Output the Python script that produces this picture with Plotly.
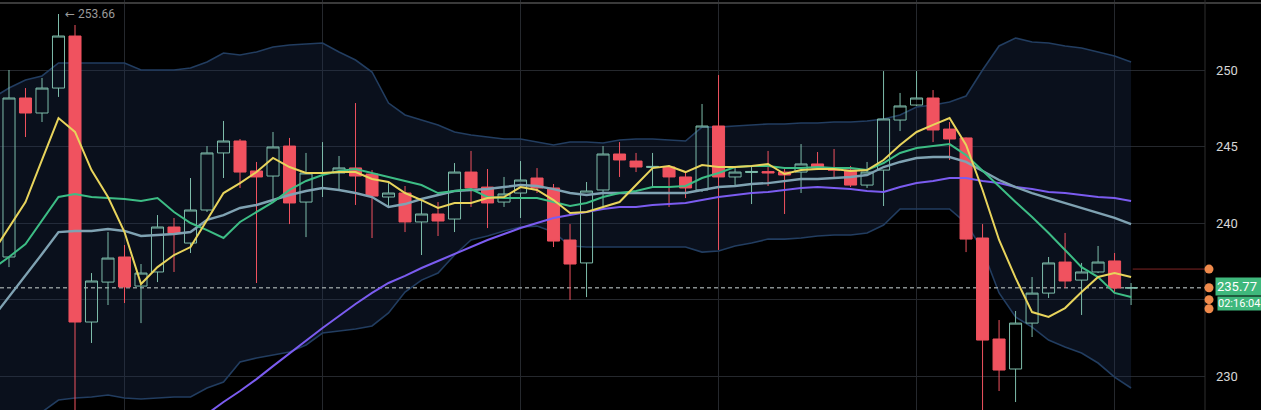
import plotly.graph_objects as go

# ---------------- data ----------------
candle_idx = list(range(69))
opens = [237.78, 248.17, 247.19, 248.82, 252.22, 233.53, 236.14, 237.78, 235.88, 236.80,
         239.74, 238.69, 240.85, 244.58, 245.36, 243.40, 243.07, 245.03, 241.37, 243.24,
         243.27, 243.60, 243.20, 241.70, 241.96, 240.07, 240.59, 240.26, 243.33, 242.35,
         241.37, 241.96, 242.94, 242.29, 238.89, 237.39, 242.16, 244.51, 244.05, 243.63,
         243.66, 243.01, 242.16, 246.34, 243.01, 243.30, 243.36, 243.33, 243.33, 243.86,
         243.50, 243.46, 242.48, 243.46, 246.73, 247.71, 248.17, 246.14, 245.56, 239.02,
         232.42, 230.46, 233.46, 235.42, 237.45, 236.27, 236.80, 237.52, 235.75]
highs = [250.00, 248.82, 249.48, 253.66, 252.94, 236.73, 239.41, 238.56, 237.32, 240.52,
         240.33, 242.94, 245.03, 246.67, 245.49, 243.99, 245.95, 245.56, 244.58, 245.29,
         244.38, 247.84, 243.46, 242.68, 242.42, 241.50, 241.37, 243.92, 244.71, 243.53,
         243.01, 244.05, 243.59, 242.55, 239.93, 242.68, 245.03, 245.29, 244.58, 244.58,
         243.79, 243.33, 247.78, 249.67, 243.66, 243.66, 244.71, 243.53, 245.16, 244.64,
         244.84, 243.73, 243.99, 249.93, 248.50, 249.93, 248.69, 246.60, 245.59, 239.93,
         233.66, 234.25, 236.47, 237.78, 239.35, 237.39, 238.50, 238.04, 236.08]
lows = [237.12, 245.62, 246.60, 248.24, 227.00, 232.16, 234.64, 234.77, 233.46, 236.14,
        236.80, 238.04, 240.72, 242.94, 242.29, 236.08, 241.50, 239.93, 239.08, 241.70,
        242.09, 241.18, 239.02, 241.05, 239.41, 237.91, 239.15, 239.41, 241.05, 239.67,
        241.05, 240.33, 241.96, 238.43, 234.97, 235.16, 241.11, 243.01, 243.33, 242.35,
        241.05, 241.63, 242.03, 238.24, 242.42, 241.24, 242.42, 240.59, 241.96, 243.46,
        243.01, 242.35, 242.29, 241.11, 246.01, 247.65, 245.29, 244.12, 238.10, 227.60,
        229.02, 228.30, 232.55, 235.10, 235.75, 233.99, 236.73, 235.42, 234.64]
closes = [248.17, 247.19, 248.82, 252.22, 233.53, 236.21, 237.71, 235.82, 236.73, 239.74,
          239.35, 240.85, 244.58, 245.36, 243.33, 243.01, 244.97, 241.31, 243.27, 243.30,
          243.60, 243.07, 241.76, 241.96, 240.07, 240.59, 240.13, 243.33, 242.29, 241.31,
          241.90, 242.81, 242.29, 238.82, 237.32, 242.09, 244.51, 244.12, 243.66, 243.70,
          243.01, 242.29, 246.34, 243.01, 243.33, 243.37, 243.27, 243.14, 243.86, 243.59,
          243.46, 242.48, 243.33, 246.80, 247.65, 248.17, 246.08, 245.49, 238.95, 232.35,
          230.39, 233.46, 235.42, 237.39, 236.21, 236.80, 237.45, 235.75, 235.77]

line_idx = list(range(-1, 69))
ma_fast = [238.04, 239.74, 241.37, 244.12, 246.86, 245.95, 243.46, 241.70, 239.41, 236.01,
           237.12, 237.91, 238.43, 240.20, 241.96, 242.61, 243.33, 244.25, 243.66, 243.27,
           243.27, 243.33, 243.33, 242.88, 242.68, 241.96, 241.50, 240.98, 241.31, 241.31,
           241.63, 241.70, 242.35, 242.16, 241.50, 240.65, 240.72, 241.05, 241.37, 242.48,
           243.59, 243.73, 243.33, 243.79, 243.66, 243.66, 243.73, 243.86, 243.20, 243.46,
           243.53, 243.53, 243.40, 243.46, 244.12, 245.10, 245.95, 246.41, 246.86, 245.10,
           242.16, 238.89, 236.41, 234.18, 233.86, 234.44, 235.49, 236.47, 236.73, 236.47]
ma_mid = [236.99, 237.78, 238.63, 240.20, 241.70, 241.90, 241.70, 241.63, 241.57, 241.44,
          241.63, 240.72, 240.00, 239.54, 239.02, 240.07, 240.72, 241.37, 242.16, 242.75,
          243.14, 243.40, 243.53, 243.27, 243.01, 242.75, 242.48, 241.96, 242.09, 242.22,
          241.70, 241.63, 241.63, 241.63, 241.37, 241.11, 241.31, 241.70, 241.96, 242.09,
          242.35, 242.35, 242.42, 242.94, 243.27, 243.66, 243.73, 243.73, 243.59, 243.59,
          243.66, 243.59, 243.59, 243.46, 243.92, 244.58, 244.90, 245.03, 245.16, 244.44,
          243.40, 242.35, 241.37, 240.39, 239.35, 238.24, 237.12, 236.47, 235.43, 235.16]
bb_basis = [233.79, 235.16, 236.54, 237.97, 239.41, 239.48, 239.48, 239.61, 239.48, 239.15,
            239.22, 239.28, 239.41, 240.20, 240.52, 240.98, 241.18, 241.50, 241.83, 242.09,
            242.29, 242.16, 241.96, 241.70, 241.05, 241.24, 241.57, 241.83, 242.09, 242.16,
            242.22, 242.35, 242.48, 242.42, 242.22, 241.96, 241.83, 241.96, 241.96, 241.96,
            241.96, 241.96, 241.96, 242.16, 242.35, 242.42, 242.55, 242.61, 242.75, 242.88,
            242.88, 242.94, 243.01, 243.14, 243.66, 243.99, 244.25, 244.31, 244.31, 243.99,
            243.40, 242.81, 242.35, 241.96, 241.63, 241.31, 240.98, 240.65, 240.33, 239.93]
bb_upper = [248.17, 248.82, 249.35, 249.61, 250.46, 250.46, 250.46, 250.46, 250.46, 250.00,
            250.00, 250.00, 250.13, 250.52, 251.11, 250.98, 251.18, 251.50, 251.63, 251.70,
            251.76, 251.18, 250.65, 249.87, 247.84, 247.06, 246.73, 246.41, 245.95, 245.75,
            245.62, 245.49, 245.49, 245.29, 245.10, 245.29, 245.29, 245.23, 245.43, 245.49,
            245.49, 245.43, 245.36, 246.27, 246.27, 246.34, 246.41, 246.47, 246.47, 246.54,
            246.54, 246.60, 246.60, 246.67, 246.80, 247.06, 247.58, 247.71, 247.91, 248.30,
            250.00, 251.57, 252.09, 251.83, 251.76, 251.57, 251.44, 251.18, 250.92, 250.52]
bb_lower = [226.80, 227.12, 227.39, 227.65, 228.43, 228.56, 228.63, 228.76, 228.56, 228.50,
            228.56, 228.63, 228.63, 229.22, 229.61, 230.92, 231.18, 231.37, 231.57, 232.03,
            232.81, 232.94, 233.07, 233.27, 234.12, 235.49, 236.27, 236.73, 237.91, 238.89,
            239.15, 239.48, 239.74, 239.80, 239.41, 238.50, 238.43, 238.43, 238.43, 238.43,
            238.43, 238.43, 238.43, 238.10, 238.17, 238.50, 238.69, 238.95, 238.95, 239.02,
            239.15, 239.22, 239.22, 239.35, 239.87, 240.92, 240.92, 240.92, 240.92, 240.00,
            238.24, 235.43, 233.86, 233.20, 232.35, 231.90, 231.50, 230.85, 229.93, 229.22]
ma_slow_idx = list(range(12, 69))
ma_slow = [227.52, 228.30, 229.02, 229.80, 230.65, 231.50, 232.35, 233.14, 233.92, 234.71,
           235.43, 236.08, 236.54, 237.06, 237.52, 237.97, 238.43, 238.89, 239.28, 239.67,
           240.00, 240.33, 240.52, 240.72, 240.92, 241.05, 241.05, 241.18, 241.24, 241.31,
           241.50, 241.70, 241.83, 241.96, 242.03, 242.16, 242.29, 242.35, 242.29, 242.22,
           242.09, 242.03, 242.35, 242.61, 242.75, 242.94, 242.94, 242.75, 242.61, 242.35,
           242.22, 242.03, 241.96, 241.83, 241.70, 241.63, 241.44]

last_price = 235.77
countdown = "02:16:04"
high_label = 253.66
high_idx = 3
alert_levels = [236.99, 235.77, 234.99, 234.40]
ytick_vals = [230, 235, 240, 245, 250]
ytick_text = ["230", "", "240", "245", "250"]   # 235 sits under the price label
grid_x = [7, 19, 31, 43, 55, 67]

# ---------------- style ----------------
W, H = 1261, 410
R_MARGIN = 56
PLOT_W = W - R_MARGIN
X_RANGE = [-0.545, 72.48]
Y_RANGE = [227.78, 254.575]
BG = "#000000"
GRID = "#25282d"
UP = "#7dbcaa"
DOWN = "#f0525f"
YELLOW = "#e8d45c"
GREEN = "#3dbd85"
BASIS = "#7fa2b2"
PURPLE = "#7b5cf0"
BAND_LINE = "#223d60"
BAND_FILL = "rgba(30,50,88,0.32)"
LABEL_GREEN = "#3fb87c"
ORANGE = "#f08a4b"
FONT = "Roboto"

fig = go.Figure()

# Bollinger band (main axes, under everything else)
fig.add_trace(go.Scatter(x=line_idx, y=bb_upper, mode="lines",
                         line=dict(color=BAND_LINE, width=1.6), hoverinfo="skip"))
fig.add_trace(go.Scatter(x=line_idx, y=bb_lower, mode="lines", fill="tonexty",
                         fillcolor=BAND_FILL,
                         line=dict(color=BAND_LINE, width=1.6), hoverinfo="skip"))
# last price dotted line
fig.add_trace(go.Scatter(x=X_RANGE, y=[last_price, last_price], mode="lines",
                         line=dict(color="rgba(160,168,168,0.85)", width=1.5, dash="4px,3px"),
                         hoverinfo="skip"))

# candles + MAs on overlay axes
fig.add_trace(go.Candlestick(
    x=candle_idx, open=opens, high=highs, low=lows, close=closes,
    increasing=dict(line=dict(color=UP, width=1), fillcolor="rgba(0,0,0,0)"),
    decreasing=dict(line=dict(color=DOWN, width=1), fillcolor=DOWN),
    whiskerwidth=0, xaxis="x2", yaxis="y2", hoverinfo="skip"))

fig.add_trace(go.Scatter(x=ma_slow_idx, y=ma_slow, mode="lines",
                         line=dict(color=PURPLE, width=2), xaxis="x2", yaxis="y2"))
fig.add_trace(go.Scatter(x=line_idx, y=bb_basis, mode="lines",
                         line=dict(color=BASIS, width=2.4), xaxis="x2", yaxis="y2"))
fig.add_trace(go.Scatter(x=line_idx, y=ma_mid, mode="lines",
                         line=dict(color=GREEN, width=2), xaxis="x2", yaxis="y2"))
fig.add_trace(go.Scatter(x=line_idx, y=ma_fast, mode="lines",
                         line=dict(color=YELLOW, width=2), xaxis="x2", yaxis="y2"))

# alert line leading to first dot
fig.add_trace(go.Scatter(x=[candle_idx[-1] + 0.1, X_RANGE[1]], y=[alert_levels[0]] * 2,
                         mode="lines", line=dict(color="rgba(170,50,50,0.75)", width=1),
                         xaxis="x2", yaxis="y2", cliponaxis=False))

shapes = [
    dict(type="line", xref="paper", yref="paper", x0=0, x1=W / PLOT_W,
         y0=1 - 3 / H, y1=1 - 3 / H, line=dict(color="#3a3a3a", width=2)),
    dict(type="line", xref="paper", yref="paper", x0=1, x1=1, y0=0, y1=1,
         line=dict(color="#2f2f2f", width=1)),
]
dot_x = 1 + 4 / PLOT_W
for lvl in alert_levels:
    shapes.append(dict(type="circle", xref="paper", yref="y",
                       xsizemode="pixel", ysizemode="pixel",
                       xanchor=dot_x, yanchor=lvl,
                       x0=-4.5, x1=4.5, y0=-4.5, y1=4.5,
                       fillcolor=ORANGE, line=dict(width=0)))

annotations = [
    dict(x=high_idx, y=high_label, xref="x", yref="y", xanchor="left", yanchor="middle",
         xshift=4, showarrow=False,
         text=f"<span style='font-family:DejaVu Sans'>\u2190</span> {high_label:.2f}",
         font=dict(family=FONT, size=12, color="#9a9a9a")),
    dict(x=1 + 10 / PLOT_W, y=last_price, xref="paper", yref="y", xanchor="left",
         yanchor="middle", yshift=1, showarrow=False, text=f"{last_price:.2f}",
         bgcolor=LABEL_GREEN, borderpad=1, width=46, align="left",
         font=dict(family=FONT, size=13, color="#ffffff")),
    dict(x=1 + 12 / PLOT_W, y=last_price, xref="paper", yref="y", xanchor="left",
         yanchor="middle", yshift=-16, showarrow=False, text=countdown,
         bgcolor=LABEL_GREEN, borderpad=0, width=44, align="left",
         font=dict(family=FONT, size=11, color="#ffffff")),
]

axis_common = dict(range=X_RANGE, fixedrange=True, zeroline=False, showline=False)
fig.update_layout(
    width=W, height=H,
    margin=dict(l=0, r=R_MARGIN, t=0, b=0, autoexpand=False),
    paper_bgcolor=BG, plot_bgcolor=BG,
    showlegend=False,
    boxgap=0.27, boxgroupgap=0,
    xaxis=dict(**axis_common, tickvals=grid_x, showticklabels=False, ticks="",
               showgrid=True, gridcolor=GRID, gridwidth=1, rangeslider=dict(visible=False)),
    xaxis2=dict(**axis_common, overlaying="x", visible=False, rangeslider=dict(visible=False)),
    yaxis=dict(range=Y_RANGE, side="right", tickvals=ytick_vals,
               ticktext=ytick_text, showgrid=True, gridcolor=GRID,
               gridwidth=1, zeroline=False, showline=False, ticks="",
               ticklabelstandoff=10,
               tickfont=dict(family=FONT, size=13, color="#d6d6d6")),
    yaxis2=dict(range=Y_RANGE, overlaying="y", visible=False),
    shapes=shapes,
    annotations=annotations,
)

fig.write_html("out.html", config=dict(displayModeBar=False),
               post_script="document.body.style.margin='0px';document.body.style.background='#000';")
